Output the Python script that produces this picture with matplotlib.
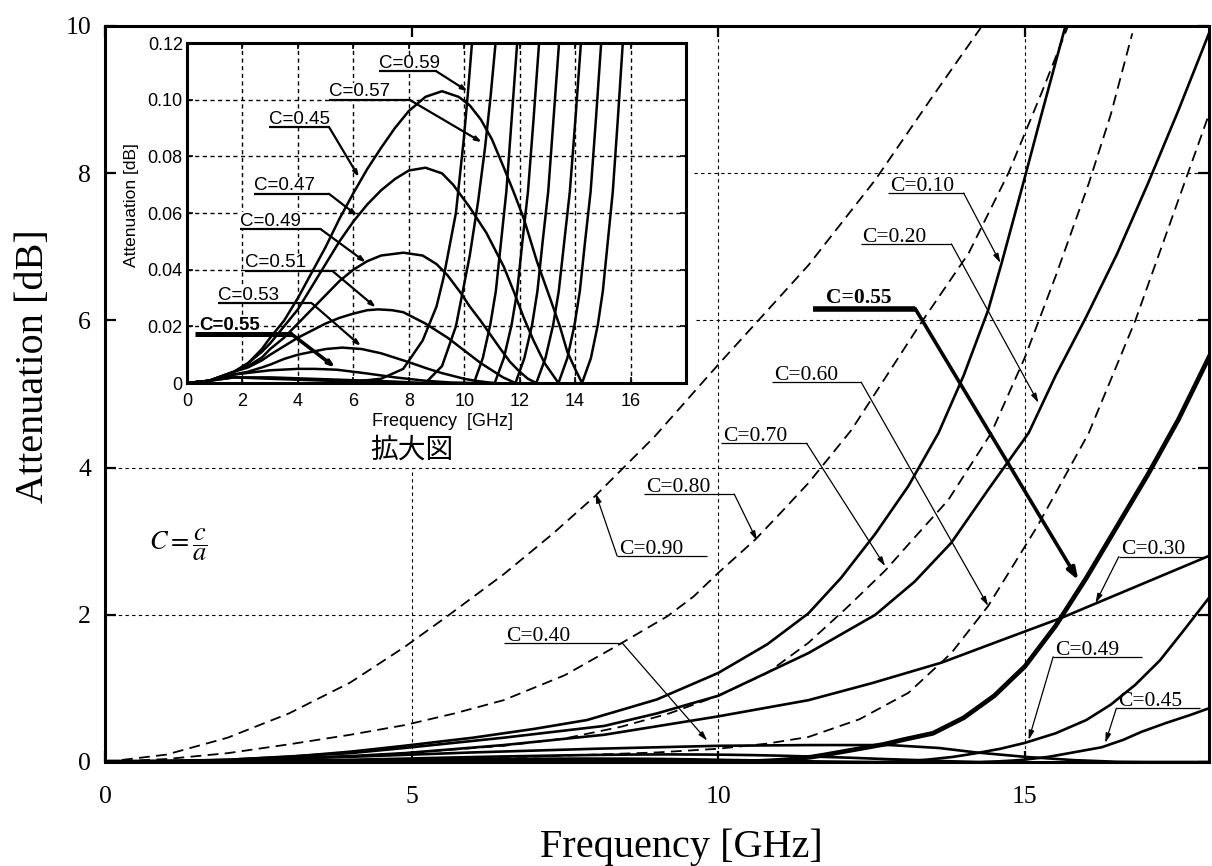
import matplotlib
matplotlib.use("Agg")
import matplotlib.pyplot as plt
import numpy as np

plt.rcParams['font.family'] = ['Liberation Serif', 'DejaVu Serif']
plt.rcParams['mathtext.fontset'] = 'stix'

# ---------------- main chart: attenuation [dB] vs frequency [GHz] ----------------
c010_x = [0, 1, 2, 3, 4, 4.88, 6, 7, 7.86, 9, 10, 10.8, 11.47, 12, 12.56, 13.1, 13.59, 14.0, 14.4, 14.62, 15.0, 15.27, 15.66, 15.8]
c010_y = [0, 0.005, 0.03, 0.07, 0.14, 0.22, 0.33, 0.45, 0.57, 0.85, 1.21, 1.6, 2.02, 2.5, 3.1, 3.75, 4.47, 5.25, 6.14, 6.78, 7.95, 8.8, 10.0, 10.4]

c020_x = [0, 2, 4, 4.88, 6.5, 8.14, 9, 10, 11.47, 12.56, 13.2, 13.8, 14.4, 15.06, 15.5, 16.0, 16.5, 17.0, 17.5, 18]
c020_y = [0, 0.03, 0.12, 0.19, 0.33, 0.49, 0.66, 0.9, 1.48, 2.0, 2.45, 2.98, 3.7, 4.47, 5.25, 6.05, 6.9, 7.85, 8.85, 9.9]

c030_x = [0, 2, 4, 4.88, 6.5, 8.14, 10, 11.47, 12.5, 13.64, 14.6, 15.6, 16.8, 18]
c030_y = [0, 0.02, 0.08, 0.12, 0.23, 0.37, 0.62, 0.84, 1.07, 1.35, 1.65, 1.96, 2.38, 2.8]

c040_x = [0, 2, 4, 6, 8, 10, 11.5, 12.8, 13.6, 14.2, 15, 15.8, 16.5, 17.0, 18]
c040_y = [0, 0.02, 0.07, 0.13, 0.18, 0.22, 0.23, 0.23, 0.19, 0.13, 0.07, 0.025, 0.003, 0.0, 0.0]

c060_x = [0, 4, 6, 8, 9, 10, 10.8, 11.47, 12.3, 13.1, 13.8, 14.4, 15.2, 16.04, 16.8, 17.46, 18]
c060_y = [0, 0.02, 0.05, 0.1, 0.13, 0.18, 0.25, 0.34, 0.58, 0.94, 1.48, 2.12, 3.2, 4.47, 6.0, 7.54, 8.8]

c070_x = [0, 2, 4, 4.88, 6.5, 7.5, 8.42, 9.2, 10, 10.8, 11.47, 12.1, 12.72, 13.2, 13.75, 14.45, 15.0, 15.5, 16.04, 16.4, 16.75]
c070_y = [0, 0.02, 0.08, 0.12, 0.22, 0.32, 0.48, 0.66, 0.9, 1.21, 1.62, 2.1, 2.6, 3.05, 3.56, 4.47, 5.5, 6.6, 7.86, 8.8, 9.9]

c080_x = [0, 1, 2, 3, 4, 4.88, 5.7, 6.5, 7.5, 8.35, 9.17, 9.6, 10, 10.6, 11.0, 11.47, 12.17, 13.26, 14.08, 14.73, 15.27, 15.75]
c080_y = [0, 0.04, 0.12, 0.24, 0.37, 0.5, 0.66, 0.84, 1.18, 1.58, 1.98, 2.25, 2.57, 3.02, 3.37, 3.79, 4.51, 5.91, 6.91, 8.0, 9.09, 10.1]

c090_x = [0, 1, 2, 3, 4, 4.88, 5.58, 6.5, 7.3, 8.0, 8.96, 10, 11.47, 12.56, 13.5, 14.3, 14.4]
c090_y = [0, 0.1, 0.33, 0.66, 1.08, 1.56, 1.98, 2.55, 3.1, 3.62, 4.42, 5.4, 6.75, 7.91, 9.05, 10.0, 10.15]

# ---------------- inset: enlarged view, attenuation up to 0.12 dB ----------------
in045_x = [0, 0.8, 1.7, 2.2, 2.7, 3, 3.5, 4, 4.5, 5, 5.5, 6, 6.5, 7, 7.5, 8, 8.6, 9.2, 9.8, 10.2, 10.6, 11.0, 11.43, 11.8, 12.15, 12.62, 13.13, 13.45, 13.72, 14.0, 14.25,
           14.57, 14.82, 15.0, 15.18, 15.36, 15.54, 15.72, 15.9]
in045_y = [0, 0.0008, 0.004, 0.007, 0.012, 0.016, 0.022, 0.030, 0.039, 0.048, 0.058, 0.067, 0.0755, 0.083, 0.090, 0.096, 0.101, 0.103, 0.101, 0.098, 0.093, 0.086, 0.076, 0.067, 0.058, 0.043, 0.029, 0.020, 0.011, 0.005, 0,
           0.0088, 0.0206, 0.0324, 0.05, 0.0676, 0.093, 0.12, 0.15]

in047_x = [0, 0.8, 1.7, 2.2, 2.7, 3, 3.5, 4, 4.5, 5, 5.5, 6, 6.5, 7, 7.5, 8, 8.6, 9.2, 9.6, 10.2, 10.8, 11.43, 11.8, 12.15, 12.5, 12.9, 13.4,
           13.72, 13.98, 14.17, 14.36, 14.56, 14.75, 14.94, 15.1]
in047_y = [0, 0.0008, 0.004, 0.007, 0.011, 0.014, 0.020, 0.026, 0.034, 0.042, 0.050, 0.057, 0.063, 0.068, 0.072, 0.075, 0.076, 0.074, 0.070, 0.062, 0.053, 0.041, 0.032, 0.023, 0.015, 0.007, 0,
           0.0088, 0.0206, 0.0324, 0.05, 0.0676, 0.093, 0.12, 0.145]

in049_x = [0, 0.8, 1.7, 2.2, 2.7, 3, 3.5, 4, 4.5, 5, 5.5, 6, 6.5, 7, 7.8, 8.5, 9.0, 9.4, 9.86, 10.2, 10.59, 10.95, 11.31, 11.65, 12.0, 12.3, 12.6,
           12.93, 13.21, 13.41, 13.61, 13.81, 14.01, 14.21, 14.4]
in049_y = [0, 0.0008, 0.004, 0.006, 0.009, 0.012, 0.016, 0.021, 0.026, 0.031, 0.036, 0.040, 0.043, 0.045, 0.046, 0.045, 0.042, 0.038, 0.032, 0.027, 0.022, 0.017, 0.012, 0.0075, 0.004, 0.0015, 0,
           0.0088, 0.0206, 0.0324, 0.05, 0.0676, 0.093, 0.12, 0.145]

in051_x = [0, 0.8, 1.7, 2.2, 2.7, 3, 3.5, 4, 4.5, 5, 5.5, 6, 6.5, 6.9, 7.4, 7.8, 8.2, 8.6, 9.0, 9.4, 9.8, 10.2, 10.6, 11.0, 11.4, 11.85,
           12.17, 12.45, 12.64, 12.83, 13.03, 13.22, 13.42, 13.6]
in051_y = [0, 0.0008, 0.004, 0.0055, 0.008, 0.010, 0.013, 0.016, 0.0185, 0.021, 0.023, 0.0245, 0.0257, 0.026, 0.0257, 0.025, 0.023, 0.021, 0.0185, 0.016, 0.013, 0.010, 0.007, 0.0045, 0.002, 0,
           0.0088, 0.0206, 0.0324, 0.05, 0.0676, 0.093, 0.12, 0.145]

in053_x = [0, 0.8, 1.7, 2.2, 2.7, 3, 3.5, 4, 4.5, 5, 5.6, 6.3, 7, 7.8, 8.2, 8.7, 9.2, 9.6, 10.0, 10.4, 10.8, 11.1,
           11.43, 11.71, 11.91, 12.1, 12.3, 12.5, 12.7, 12.85]
in053_y = [0, 0.0008, 0.003, 0.004, 0.0055, 0.0065, 0.0085, 0.010, 0.011, 0.012, 0.0125, 0.012, 0.0105, 0.008, 0.0067, 0.005, 0.0035, 0.0025, 0.0015, 0.0008, 0.0003, 0,
           0.0088, 0.0206, 0.0324, 0.05, 0.0676, 0.093, 0.12, 0.145]

in055_x = [0, 0.8, 1.7, 3, 4, 4.6, 5.4, 6.4, 7.5, 8.6, 9.5, 10.35, 10.67, 10.94, 11.14, 11.33, 11.52, 11.71, 11.91, 12.05]
in055_y = [0, 0.0008, 0.003, 0.0045, 0.005, 0.005, 0.0047, 0.0035, 0.002, 0.0008, 0.0002, 0, 0.0088, 0.0206, 0.0324, 0.05, 0.0676, 0.093, 0.12, 0.145]

in057_x = [0, 0.8, 1.7, 3, 4.5, 6, 7.5, 8.6, 9.2, 9.7, 10.2, 10.5, 10.75, 10.95, 11.13, 11.3]
in057_y = [0, 0.0008, 0.002, 0.002, 0.0015, 0.001, 0.0005, 0, 0.006, 0.02, 0.045, 0.064, 0.083, 0.101, 0.12, 0.14]

in059_x = [0, 0.8, 1.7, 3, 4.5, 6, 7, 7.8, 8.5, 9.0, 9.25, 9.7, 9.98, 10.13, 10.28, 10.45]
in059_y = [0, 0.0008, 0.002, 0.0015, 0.001, 0.0005, 0.0015, 0.005, 0.015, 0.027, 0.037, 0.06, 0.0857, 0.102, 0.12, 0.14]

# high-frequency continuation of the notch curves on the main scale
c045_ext_x = [16.25, 16.6, 16.9, 17.3, 17.7, 18]
c045_ext_y = [0.2, 0.3, 0.41, 0.53, 0.64, 0.73]
c049_ext_x = [14.6, 15.0, 15.5, 16.0, 16.4, 16.8, 17.2, 17.6, 18]
c049_ext_y = [0.18, 0.26, 0.39, 0.57, 0.78, 1.05, 1.38, 1.8, 2.23]
c055_ext_x = [12.3, 12.7, 13.0, 13.5, 14.0, 14.5, 15.0, 15.5, 16.0, 16.5, 17.0, 17.5, 18]
c055_ext_y = [0.18, 0.24, 0.3, 0.39, 0.6, 0.9, 1.3, 1.85, 2.5, 3.2, 3.9, 4.65, 5.5]

# ---------------- label annotations ----------------
main_labels = ["C=0.10", "C=0.20", "C=0.55", "C=0.60", "C=0.70", "C=0.80", "C=0.90", "C=0.40", "C=0.30", "C=0.49", "C=0.45"]
main_line_y = [7.73, 7.04, 6.16, 5.16, 4.33, 3.64, 2.80, 1.62, 2.79, 1.43, 0.73]
main_line_x0 = [12.77, 12.32, 11.55, 10.88, 10.05, 8.79, 8.35, 6.51, 16.53, 15.46, 16.49]
main_line_x1 = [14.0, 13.8, 13.21, 12.33, 11.44, 10.26, 9.82, 8.43, 17.94, 16.9, 17.86]
main_tip_x = [14.6, 15.22, 15.87, 14.4, 12.72, 10.63, 8.0, 9.82, 16.15, 15.06, 16.31]
main_tip_y = [6.78, 4.88, 2.47, 2.12, 2.66, 3.01, 3.65, 0.29, 2.16, 0.30, 0.26]
main_from_left = [False, False, False, False, False, False, True, False, True, True, True]

inset_labels = ["C=0.59", "C=0.57", "C=0.45", "C=0.47", "C=0.49", "C=0.51", "C=0.53", "C=0.55"]
inset_line_y = [0.110, 0.100, 0.0904, 0.0668, 0.0544, 0.0396, 0.0281, 0.0172]
inset_line_x0 = [6.93, 5.12, 2.94, 2.40, 1.91, 2.09, 1.12, 0.28]
inset_line_x1 = [9.0, 8.02, 5.12, 5.12, 4.81, 5.24, 4.51, 3.78]
inset_tip_x = [10.12, 10.63, 6.2, 6.14, 6.45, 6.81, 6.27, 5.36]
inset_tip_y = [0.103, 0.085, 0.0727, 0.0591, 0.0426, 0.0267, 0.0131, 0.0054]

fig = plt.figure(figsize=(12.12, 8.66), dpi=100)
ax = fig.add_axes([0.0866, 0.1201, 0.9109, 0.8499])

solid = dict(color='k', lw=1.9, zorder=3)
dashed = dict(color='k', lw=1.3, ls=(0, (6, 3.5)), zorder=3)

ax.plot(c010_x, c010_y, **solid)
ax.plot(c020_x, c020_y, **solid)
ax.plot(c030_x, c030_y, **solid)
ax.plot(c040_x, c040_y, **solid)
ax.plot(c060_x, c060_y, **dashed)
ax.plot(c070_x, c070_y, **dashed)
ax.plot(c080_x, c080_y, **dashed)
ax.plot(c090_x, c090_y, **dashed)
ax.plot(in045_x[:-1] + c045_ext_x, in045_y[:-1] + c045_ext_y, **solid)
ax.plot(in049_x[:-1] + c049_ext_x, in049_y[:-1] + c049_ext_y, **solid)
ax.plot(in055_x[:-2] + c055_ext_x, in055_y[:-2] + c055_ext_y, color='k', lw=3.4, zorder=3)

ax.set_xlim(0, 18)
ax.set_ylim(0, 10)
ax.set_xticks([0, 5, 10, 15])
ax.set_yticks([0, 2, 4, 6, 8, 10])
ax.tick_params(direction='in', length=8, width=1.6, top=True, right=True, labelsize=18.5)
ax.tick_params(axis='x', pad=17)
ax.tick_params(axis='y', pad=10)
for s in ax.spines.values():
    s.set_linewidth(2.2)

# grid lines (partly hidden behind the inset area)
gkw = dict(color='k', lw=0.8, ls=(0, (3, 3)), zorder=1)
ax.plot([5, 5], [0, 4], **gkw)
ax.plot([10, 10], [0, 10], **gkw)
ax.plot([15, 15], [0, 10], **gkw)
ax.plot([0, 18], [2, 2], **gkw)
ax.plot([0, 18], [4, 4], **gkw)
ax.plot([9.63, 18], [6, 6], **gkw)
ax.plot([9.6, 18], [8, 8], **gkw)

ax.set_xlabel("Frequency [GHz]", fontsize=29)
ax.set_ylabel("Attenuation [dB]", fontsize=29)
ax.xaxis.set_label_coords(0.522, -0.09)
ax.yaxis.set_label_coords(-0.048, 0.538)

for i, lab in enumerate(main_labels):
    bold = lab == "C=0.55"
    lw = 4.0 if bold else 0.9
    y = main_line_y[i]
    ax.plot([main_line_x0[i], main_line_x1[i]], [y, y], color='k', lw=lw,
            solid_capstyle='butt', zorder=5)
    sx = main_line_x0[i] if main_from_left[i] else main_line_x1[i]
    head = '-|>,head_length=0.7,head_width=0.25' if bold else '-|>,head_length=0.55,head_width=0.16'
    ax.annotate('', xy=(main_tip_x[i], main_tip_y[i]), xytext=(sx, y),
                arrowprops=dict(arrowstyle=head, color='k', lw=2.6 if bold else 0.9,
                                shrinkA=0, shrinkB=0), zorder=5)
    tx = main_line_x0[i] + (0.2 if bold else 0.03)
    ax.text(tx, y + (0.075 if bold else 0.03), lab, fontsize=15.5,
            fontweight='bold' if bold else 'normal',
            ha='left', va='baseline', zorder=6)

ax.text(1.19, 2.95, r'$C=\dfrac{c}{a}$', fontsize=19, ha='center', va='center')

# ---------------- inset ----------------
ins = fig.add_axes([0.1543, 0.5577, 0.4117, 0.3926])
ins.set_zorder(10)
lkw = dict(color='k', lw=1.8, zorder=2)
ins.plot(in045_x, in045_y, **lkw)
ins.plot(in047_x, in047_y, **lkw)
ins.plot(in049_x, in049_y, **lkw)
ins.plot(in051_x, in051_y, **lkw)
ins.plot(in053_x, in053_y, **lkw)
ins.plot(in055_x, in055_y, **lkw)
ins.plot(in057_x, in057_y, **lkw)
ins.plot(in059_x, in059_y, **lkw)
ins.set_xlim(0, 18)
ins.set_ylim(0, 0.12)
ins.set_xticks(np.arange(0, 17, 2))
ins.set_yticks([0, 0.02, 0.04, 0.06, 0.08, 0.10, 0.12])
ins.set_yticklabels(['0', '0.02', '0.04', '0.06', '0.08', '0.10', '0.12'])
ins.grid(True, color='k', lw=1.0, ls=(0, (3, 2.5)))
ins.tick_params(direction='in', length=4, width=1.2, top=True, right=True,
                labelsize=13, labelfontfamily='Liberation Sans')
ins.tick_params(axis='x', pad=7)
ins.tick_params(axis='y', pad=3)
for s in ins.spines.values():
    s.set_linewidth(2.2)
ins.set_xlabel("Frequency  [GHz]", fontsize=13, family='Liberation Sans')
ins.set_ylabel("Attenuation [dB]", fontsize=12.5, family='Liberation Sans')
ins.xaxis.set_label_coords(0.513, -0.088)
ins.yaxis.set_label_coords(-0.096, 0.524)

for i, lab in enumerate(inset_labels):
    bold = lab == "C=0.55"
    y = inset_line_y[i]
    ins.plot([inset_line_x0[i], inset_line_x1[i]], [y, y], color='k',
             lw=3.6 if bold else 1.6, solid_capstyle='butt', zorder=5)
    ins.annotate('', xy=(inset_tip_x[i], inset_tip_y[i]), xytext=(inset_line_x1[i], y),
                 arrowprops=dict(arrowstyle='-|>,head_length=0.35,head_width=0.12', color='k',
                                 lw=2.6 if bold else 1.6, shrinkA=0, shrinkB=0), zorder=5)
    ins.text(inset_line_x0[i] + (0.15 if bold else 0.0), y + (0.0016 if bold else 0.0012), lab,
             fontsize=13.5, family='Liberation Sans', fontweight='bold' if bold else 'normal',
             ha='left', va='baseline', zorder=4,
             bbox=dict(facecolor='white', edgecolor='none', pad=0.3))

fig.text(412 / 1212, 1 - 450 / 866, "拡大図", fontsize=20,
         family=['Noto Sans CJK JP', 'DejaVu Sans'], ha='center', va='center')

fig.savefig("out.png", dpi=100)
